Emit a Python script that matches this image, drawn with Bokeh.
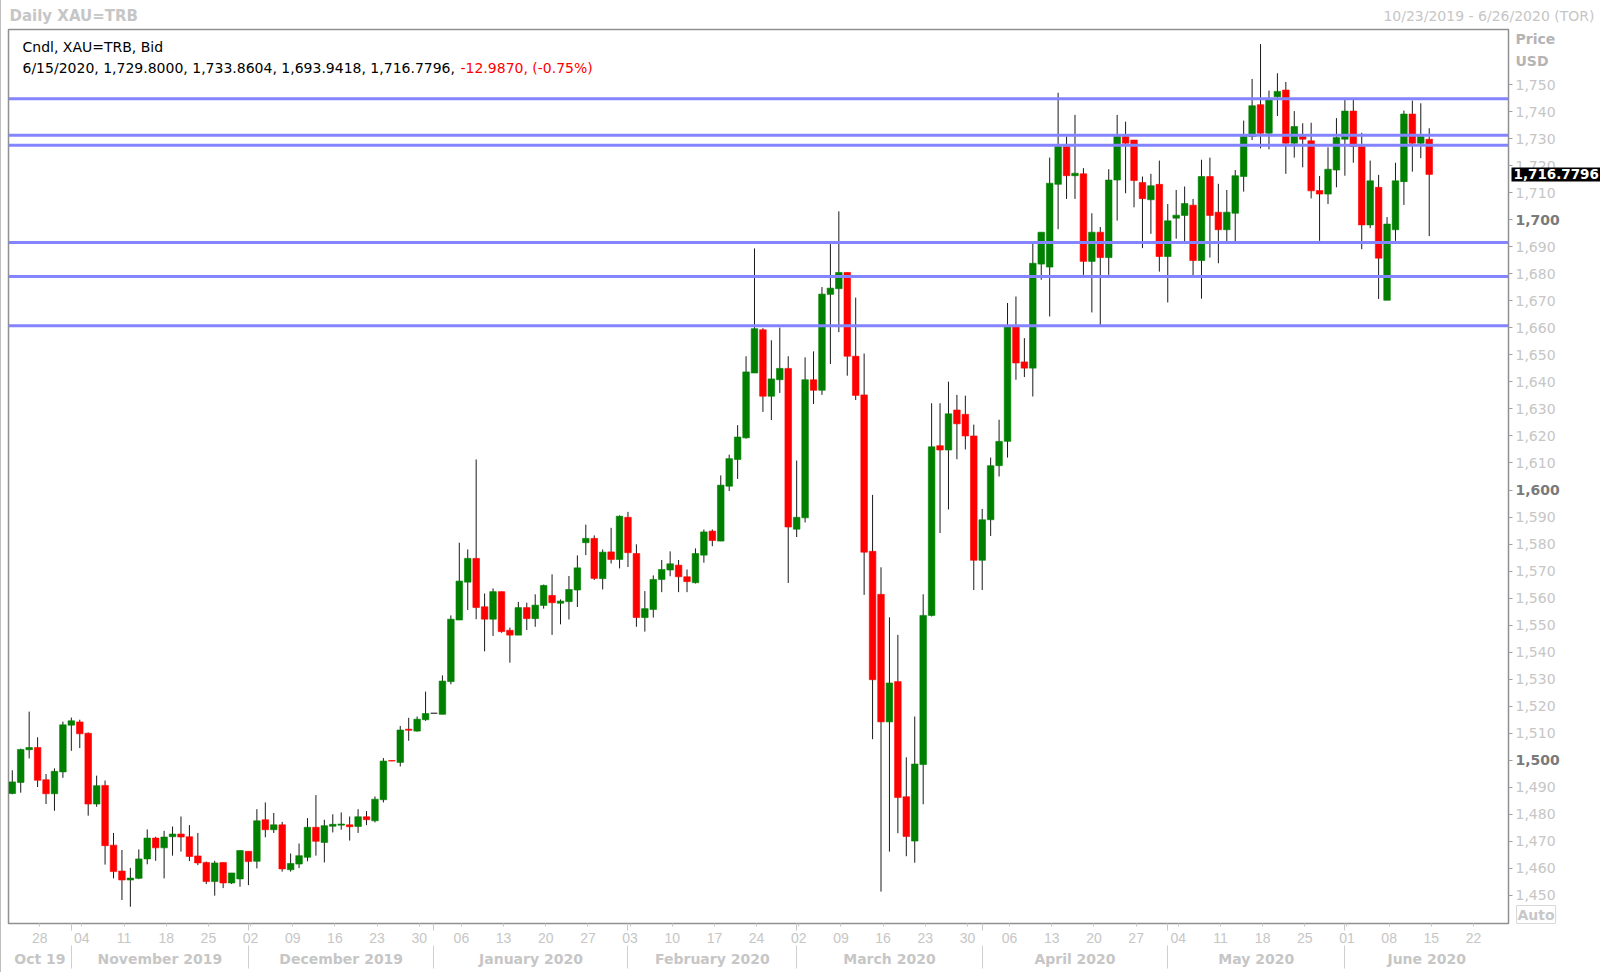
from bokeh.plotting import figure
from bokeh.models import (Range1d, FixedTicker, LinearAxis, Span, Label,
                          ColumnDataSource, NumeralTickFormatter)
from bokeh.embed import file_html
from bokeh.resources import INLINE

# ---------------- data (daily XAU=TRB, one entry per weekday from 23 Oct 2019 to 15 Jun 2020)
opens = [1487.7, 1491.8, 1503.9, 1504.7, 1492.8, 1487.6, 1495.7, 1513.0, 1514.2, 1510.0,
         1483.8, 1490.7, 1468.6, 1459.0, 1455.7, 1456.3, 1463.5, 1471.2, 1467.6, 1471.7,
         1472.7, 1471.7, 1464.6, 1462.2, 1455.1, 1462.2, 1454.6, 1456.1, 1466.3, 1462.6,
         1478.0, 1474.3, 1476.1, 1459.5, 1461.6, 1464.1, 1475.2, 1469.6, 1475.6, 1476.0,
         1476.1, 1475.5, 1479.1, 1477.6, 1485.4, 1499.9, 1499.2, 1511.5, 1510.8, 1515.0,
         1517.4, 1517.0, 1529.1, 1551.9, 1565.9, 1574.7, 1556.8, 1552.2, 1562.4, 1548.1,
         1546.3, 1556.5, 1552.4, 1557.3, 1561.0, 1558.1, 1558.7, 1563.0, 1580.5, 1582.1,
         1567.2, 1577.1, 1574.3, 1589.9, 1576.5, 1552.8, 1555.8, 1566.9, 1570.4, 1572.2,
         1567.9, 1565.7, 1575.9, 1584.8, 1581.1, 1601.4, 1611.3, 1619.3, 1643.3, 1659.3,
         1634.7, 1640.8, 1645.0, 1585.5, 1589.7, 1640.8, 1636.9, 1672.4, 1674.5, 1680.5,
         1649.5, 1635.2, 1577.3, 1561.4, 1514.2, 1529.1, 1486.5, 1470.1, 1498.4, 1553.6,
         1616.4, 1614.8, 1629.6, 1628.0, 1620.0, 1574.0, 1589.0, 1609.0, 1618.0, 1660.3,
         1647.4, 1645.1, 1683.6, 1682.5, 1713.1, 1727.1, 1716.3, 1717.0, 1684.6, 1695.4,
         1686.0, 1714.7, 1730.8, 1729.5, 1713.8, 1707.4, 1713.1, 1686.4, 1700.6, 1701.6,
         1705.4, 1684.9, 1716.0, 1702.8, 1696.3, 1702.4, 1716.0, 1730.8, 1742.6, 1732.0,
         1745.5, 1748.0, 1728.3, 1730.8, 1729.2, 1710.8, 1709.5, 1718.4, 1729.8, 1740.2,
         1727.1, 1698.1, 1712.0, 1670.2, 1696.3, 1714.1, 1739.1, 1728.3, 1729.8]
highs = [1496.3, 1504.3, 1518.0, 1508.5, 1494.9, 1497.0, 1514.3, 1515.8, 1515.0, 1510.3,
         1494.3, 1492.5, 1473.1, 1466.8, 1460.2, 1467.0, 1474.4, 1471.7, 1473.9, 1475.5,
         1479.2, 1476.0, 1473.1, 1462.5, 1462.8, 1462.2, 1458.3, 1466.6, 1466.3, 1481.9,
         1484.4, 1480.5, 1477.2, 1465.5, 1469.2, 1478.6, 1487.1, 1478.0, 1480.0, 1480.7,
         1479.2, 1481.9, 1481.2, 1486.6, 1500.8, 1499.9, 1512.7, 1515.7, 1516.2, 1525.4,
         1517.4, 1531.4, 1553.6, 1580.5, 1578.0, 1611.3, 1561.7, 1563.6, 1562.4, 1549.1,
         1558.6, 1558.3, 1561.4, 1565.0, 1568.8, 1559.5, 1568.2, 1575.8, 1587.2, 1583.2,
         1578.0, 1586.0, 1590.6, 1591.9, 1579.9, 1562.6, 1568.4, 1574.1, 1577.3, 1574.1,
         1570.6, 1578.4, 1585.4, 1585.4, 1605.4, 1613.1, 1624.0, 1649.5, 1689.4, 1659.9,
         1655.4, 1660.1, 1649.5, 1610.9, 1649.1, 1651.3, 1675.1, 1691.0, 1703.1, 1680.5,
         1671.2, 1650.5, 1598.2, 1571.4, 1552.9, 1546.4, 1501.1, 1516.2, 1561.4, 1632.1,
         1632.1, 1640.1, 1635.2, 1634.9, 1624.2, 1593.0, 1612.0, 1626.0, 1669.2, 1671.6,
         1656.2, 1691.3, 1695.4, 1723.0, 1747.0, 1730.8, 1738.8, 1719.1, 1702.4, 1697.3,
         1718.7, 1738.8, 1736.3, 1729.5, 1716.0, 1717.0, 1721.9, 1705.8, 1711.0, 1712.3,
         1707.7, 1722.2, 1723.0, 1713.3, 1711.0, 1718.4, 1736.7, 1752.1, 1765.0, 1747.8,
         1754.2, 1751.0, 1740.2, 1735.7, 1735.9, 1716.2, 1726.8, 1737.6, 1744.3, 1744.3,
         1732.2, 1721.9, 1716.6, 1701.0, 1721.1, 1740.4, 1744.1, 1743.1, 1733.8604]
lows = [1487.4, 1488.0, 1500.7, 1490.1, 1483.8, 1481.3, 1493.5, 1503.5, 1504.5, 1479.5,
        1482.8, 1461.4, 1456.3, 1448.3, 1445.8, 1456.0, 1461.5, 1462.8, 1456.3, 1464.7,
        1466.2, 1462.7, 1461.2, 1454.2, 1449.9, 1452.7, 1454.2, 1453.2, 1453.8, 1460.0,
        1471.5, 1473.1, 1458.8, 1458.8, 1460.1, 1462.6, 1464.7, 1462.2, 1473.3, 1474.3,
        1470.3, 1473.1, 1476.0, 1477.0, 1484.4, 1499.7, 1497.7, 1507.2, 1510.6, 1514.6,
        1517.4, 1517.0, 1528.1, 1551.9, 1555.6, 1552.2, 1540.3, 1546.0, 1547.2, 1536.1,
        1546.3, 1548.2, 1549.4, 1556.1, 1546.4, 1550.3, 1552.1, 1556.7, 1575.9, 1566.7,
        1563.2, 1572.8, 1571.0, 1571.5, 1549.4, 1547.6, 1552.8, 1562.2, 1568.1, 1562.2,
        1562.2, 1565.4, 1573.1, 1579.2, 1581.1, 1599.6, 1604.1, 1619.0, 1643.3, 1628.9,
        1625.9, 1635.9, 1565.6, 1582.6, 1588.0, 1631.8, 1635.2, 1646.6, 1658.4, 1642.3,
        1633.3, 1561.2, 1507.8, 1451.4, 1466.2, 1473.0, 1464.5, 1462.1, 1483.7, 1553.2,
        1584.1, 1592.8, 1611.4, 1615.0, 1563.0, 1563.0, 1583.0, 1605.0, 1612.0, 1640.8,
        1641.8, 1634.6, 1677.8, 1664.2, 1696.5, 1707.7, 1707.7, 1679.6, 1665.7, 1661.1,
        1679.6, 1699.7, 1709.8, 1704.6, 1689.5, 1694.8, 1680.8, 1669.4, 1693.0, 1691.9,
        1679.5, 1670.8, 1686.0, 1683.9, 1691.9, 1691.9, 1710.4, 1729.5, 1726.4, 1726.1,
        1738.4, 1717.0, 1723.0, 1719.4, 1707.9, 1692.2, 1705.8, 1712.0, 1716.3, 1721.1,
        1689.1, 1696.9, 1670.7, 1670.2, 1692.2, 1705.5, 1717.8, 1722.8, 1693.9418]
closes = [1492.0, 1504.0, 1504.7, 1492.6, 1487.6, 1495.9, 1513.1, 1514.6, 1509.8, 1483.8,
          1490.6, 1468.4, 1458.8, 1455.7, 1456.4, 1463.5, 1471.2, 1467.6, 1471.6, 1472.7,
          1471.6, 1464.4, 1462.0, 1455.1, 1462.0, 1454.6, 1458.3, 1466.6, 1462.5, 1477.6,
          1474.3, 1476.1, 1459.8, 1461.8, 1464.7, 1475.2, 1470.0, 1475.8, 1476.3, 1476.4,
          1475.4, 1479.1, 1478.0, 1485.6, 1499.7, 1499.7, 1511.2, 1511.1, 1515.2, 1517.3,
          1517.4, 1529.3, 1552.2, 1566.3, 1574.7, 1556.5, 1552.2, 1562.4, 1547.6, 1546.3,
          1556.5, 1552.4, 1557.4, 1564.7, 1558.3, 1558.9, 1563.2, 1571.2, 1582.1, 1567.3,
          1577.0, 1574.3, 1590.3, 1576.8, 1552.8, 1556.1, 1566.9, 1570.6, 1572.7, 1567.9,
          1566.1, 1576.5, 1584.5, 1581.3, 1601.8, 1611.6, 1619.6, 1643.7, 1659.7, 1634.7,
          1641.1, 1645.0, 1586.3, 1589.9, 1640.8, 1636.9, 1672.5, 1674.7, 1680.5, 1649.5,
          1635.0, 1577.0, 1529.8, 1514.2, 1528.6, 1486.2, 1471.8, 1498.6, 1553.6, 1616.0,
          1614.8, 1628.2, 1624.5, 1620.0, 1574.0, 1589.0, 1609.0, 1618.0, 1660.3, 1647.0,
          1645.1, 1683.9, 1695.4, 1713.5, 1727.1, 1716.3, 1717.2, 1684.6, 1695.4, 1686.0,
          1714.7, 1730.8, 1728.3, 1714.5, 1707.8, 1712.6, 1686.4, 1699.6, 1701.7, 1706.0,
          1684.9, 1716.0, 1701.6, 1696.3, 1702.8, 1716.3, 1730.8, 1742.2, 1732.0, 1744.3,
          1747.5, 1728.3, 1734.5, 1729.8, 1710.7, 1709.5, 1718.7, 1730.4, 1740.2, 1727.1,
          1698.1, 1714.4, 1685.8, 1698.4, 1714.4, 1739.1, 1728.3, 1730.8, 1716.7796]

levels = [1744.8, 1731.3, 1727.6, 1691.6, 1679.0, 1660.8]

y_ticks = [1450, 1460, 1470, 1480, 1490, 1500, 1510, 1520, 1530, 1540, 1550, 1560,
           1570, 1580, 1590, 1600, 1610, 1620, 1630, 1640, 1650, 1660, 1670, 1680,
           1690, 1700, 1710, 1720, 1730, 1740, 1750]
y_bold = [1500, 1600, 1700]

day_labels = ["28", "04", "11", "18", "25", "02", "09", "16", "23", "30", "06", "13",
              "20", "27", "03", "10", "17", "24", "02", "09", "16", "23", "30", "06",
              "13", "20", "27", "04", "11", "18", "25", "01", "08", "15", "22"]
month_labels = ["Oct 19", "November 2019", "December 2019", "January 2020",
                "February 2020", "March 2020", "April 2020", "May 2020", "June 2020"]
# weekday index of the first trading day of each month (Nov .. Jun)
month_starts = [7, 28, 50, 73, 93, 115, 137, 158]

header1 = "Cndl, XAU=TRB, Bid"
header2 = "6/15/2020, 1,729.8000, 1,733.8604, 1,693.9418, 1,716.7796, "
header2_chg = "-12.9870, (-0.75%)"
title_left = "Daily XAU=TRB"
title_right = "10/23/2019 - 6/26/2020 (TOR)"
last_price = 1716.7796

# ---------------- figure
# The canvas is extended upwards by EXTRA px (shifted off-page with CSS) so that the
# texts living outside the plot frame can sit in the (unclipped) top side panel.
EXTRA = 400
W, H = 1600, 972 + EXTRA
X0, X1 = -0.45, 177.4
Y0, Y1 = 1439.6, 1770.4
FONT = "DejaVu Sans"
LIGHT = "#c6c6c6"

p = figure(width=W, height=H, x_range=Range1d(X0, X1), y_range=Range1d(Y0, Y1),
           output_backend="svg", toolbar_location=None,
           x_axis_type=None, y_axis_type=None,
           min_border_left=8, min_border_right=92, min_border_top=29 + EXTRA,
           min_border_bottom=49)
p.styles = {"position": "absolute", "left": "0px", "top": f"-{EXTRA}px",
            "outline": "1px solid #a8a8a8", "outline-offset": "-1px"}
p.background_fill_color = "white"
p.border_fill_color = "white"
p.outline_line_color = "#909090"
p.outline_line_width = 1.5

# horizontal levels
for lv in levels:
    p.add_layout(Span(location=lv, dimension="width", line_color="#8484ff", line_width=3))

# candles
xs = list(range(len(opens)))
cols = []
for o, c in zip(opens, closes):
    cols.append("#008000" if c > o else ("#ff0000" if c < o else "#000000"))
src = ColumnDataSource(dict(
    x=xs, high=highs, low=lows,
    top=[max(o, c) for o, c in zip(opens, closes)],
    bottom=[min(o, c) for o, c in zip(opens, closes)],
    color=cols))
p.segment(x0="x", y0="high", x1="x", y1="low", source=src, line_color="#1a1a1a", line_width=1)
p.vbar(x="x", width=0.78, top="top", bottom="bottom", source=src,
       fill_color="color", line_color="color", line_width=0.6)

# right price axis
yax = LinearAxis(ticker=FixedTicker(ticks=y_ticks),
                 formatter=NumeralTickFormatter(format="0,0"),
                 major_label_overrides={v: "" for v in y_bold})
yax.axis_line_color = None
yax.major_tick_out = 4
yax.major_tick_in = 0
yax.major_tick_line_color = "#a0a0a0"
yax.major_label_standoff = 3
yax.major_label_text_color = LIGHT
yax.major_label_text_font = FONT
yax.major_label_text_font_size = "14px"
p.add_layout(yax, "right")

# bottom axis: day numbers (Mondays) + short month-boundary marks
day_ticks = [3.25 + 5 * k for k in range(len(day_labels))]
xa = LinearAxis(ticker=FixedTicker(ticks=day_ticks, minor_ticks=month_starts),
                major_label_overrides={t: s for t, s in zip(day_ticks, day_labels)})
xa.axis_line_color = None
xa.major_tick_out = 3
xa.major_tick_in = 0
xa.minor_tick_out = 7
xa.minor_tick_in = 0
xa.major_tick_line_color = "#c8c8c8"
xa.minor_tick_line_color = "#c8c8c8"
xa.major_label_standoff = 2
xa.major_label_text_color = LIGHT
xa.major_label_text_font = "Liberation Sans"
xa.major_label_text_font_size = "14px"
p.add_layout(xa, "below")

# bottom axis: month names with separators
bounds = [X0] + month_starts + [X1]
month_centers = [(a + b) / 2 for a, b in zip(bounds[:-1], bounds[1:])]
xb = LinearAxis(ticker=FixedTicker(ticks=month_centers, minor_ticks=month_starts),
                major_label_overrides={t: s for t, s in zip(month_centers, month_labels)})
xb.axis_line_color = None
xb.major_tick_out = 0
xb.major_tick_in = 0
xb.major_tick_line_color = None
xb.minor_tick_out = 23
xb.minor_tick_in = 0
xb.minor_tick_line_color = "#cfcfcf"
xb.major_label_standoff = -18
xb.major_label_text_color = LIGHT
xb.major_label_text_font = FONT
xb.major_label_text_font_size = "14px"
xb.major_label_text_font_style = "bold"
p.add_layout(xb, "below")

# texts
def lab(side, **kw):
    base = dict(text_font=FONT, text_font_size="14px", text_baseline="middle",
                text_align="left")
    base.update(kw)
    p.add_layout(Label(**base), side)

# inside the plot frame
lab("center", x=X0, y=Y1, x_offset=14, y_offset=-17, text=header1, text_color="#000000")
lab("center", x=X0, y=Y1, x_offset=14, y_offset=-38, text=header2, text_color="#000000")
lab("center", x=X0, y=Y1, x_offset=452, y_offset=-38, text=header2_chg, text_color="#ff0000")
# outside the plot frame (kept in the top side panel, positioned by data coordinates)
lab("above", x=X0, y=Y1, x_offset=1, y_offset=14, text=title_left, text_color=LIGHT,
    text_font_style="bold", text_font_size="15px")
lab("above", x=X1, y=Y1, x_offset=86, y_offset=14, text=title_right, text_color=LIGHT,
    text_align="right")
for v in y_bold:
    lab("above", x=X1, y=v, x_offset=7, text=f"{v:,}", text_font_style="bold",
        text_color="#7a7a7a")
lab("above", x=X1, y=Y1, x_offset=7, y_offset=-9, text="Price", text_color="#b4b4b4",
    text_font_style="bold")
lab("above", x=X1, y=Y1, x_offset=7, y_offset=-31, text="USD", text_color="#b4b4b4",
    text_font_style="bold")
lab("above", x=X1, y=Y0, x_offset=8, y_offset=9, text="Auto", text_color="#c8c8c8",
    text_font_style="bold", border_line_color="#d8d8d8", background_fill_color="white",
    padding=1)
lab("above", x=X1, y=last_price, x_offset=3, text=f"{last_price:,.4f}", text_color="white",
    text_font_style="bold", text_font_size="13.5px", background_fill_color="black", padding=2)

open("out.html", "w").write(file_html(p, INLINE))
